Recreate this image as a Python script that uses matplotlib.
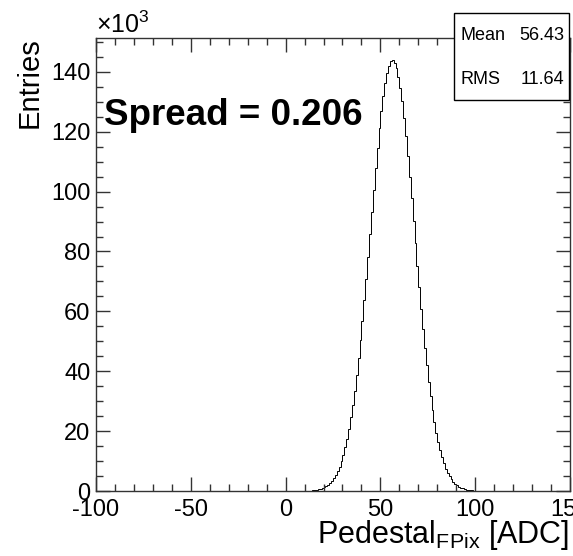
import numpy as np
import matplotlib
matplotlib.use("Agg")
import matplotlib.pyplot as plt
from matplotlib.patches import Rectangle
from matplotlib.ticker import MultipleLocator

plt.rcParams['font.family'] = ['Liberation Sans', 'DejaVu Sans']
plt.rcParams['mathtext.fontset'] = 'custom'
plt.rcParams['mathtext.rm'] = 'Liberation Sans'
plt.rcParams['mathtext.it'] = 'Liberation Sans:italic'
plt.rcParams['axes.unicode_minus'] = False

# Histogram data (bin lower edges in ADC, contents in units of 10^3 entries)
bin_low = list(range(14, 100))
counts_k = [
    0.22, 0.29, 0.40, 0.54, 0.71, 0.94, 1.23, 1.60, 2.06, 2.64,
    3.35, 4.24, 5.30, 6.59, 8.14, 9.97, 12.12, 14.63, 17.53, 20.84,
    24.59, 28.80, 33.50, 38.68, 44.30, 50.39, 56.87, 63.72, 70.87, 78.23,
    85.72, 93.23, 100.6, 107.8, 114.7, 121.1, 126.9, 132.0, 136.3, 139.7,
    142.1, 143.5, 143.8, 143.0, 141.2, 138.4, 134.7, 130.1, 124.7, 118.6,
    112.0, 105.0, 97.7, 90.2, 82.7, 75.3, 68.0, 60.9, 54.2, 47.9,
    42.0, 36.5, 31.6, 27.1, 23.0, 19.5, 16.3, 13.6, 11.2, 9.20,
    7.49, 6.05, 4.85, 3.86, 3.05, 2.39, 1.86, 1.44, 1.10, 0.84,
    0.63, 0.48, 0.35, 0.26, 0.19, 0.14,
]
bin_width = 1.0
stat_names = ["Mean", "RMS"]
stat_values = ["56.43", "11.64"]
spread_text = "Spread = 0.206"

W, H = 573, 556
fig = plt.figure(figsize=(W / 100, H / 100), dpi=100)
ax = fig.add_axes([96 / W, 1 - 491 / H, (570 - 96) / W, (491 - 38) / H])

edges = np.append(np.array(bin_low, dtype=float), bin_low[-1] + bin_width)
ax.stairs(counts_k, edges, color='black', linewidth=0.7, baseline=0)

ax.set_xlim(-100, 150)
ax.set_ylim(0, 151.3)
ax.xaxis.set_major_locator(MultipleLocator(50))
ax.xaxis.set_minor_locator(MultipleLocator(10))
ax.yaxis.set_major_locator(MultipleLocator(20))
ax.yaxis.set_minor_locator(MultipleLocator(5))
ax.tick_params(which='both', direction='in', top=True, right=True,
               labelsize=17, color='#333333', width=1)
ax.tick_params(which='major', length=10)
ax.tick_params(which='minor', length=5)
ax.tick_params(axis='x', pad=6)
ax.tick_params(axis='y', pad=4)
for sp in ax.spines.values():
    sp.set_linewidth(1)
    sp.set_color('#333333')

# axis titles
fig.text(569 / W, 1 - 543 / H, r'Pedestal$_{\mathrm{FPix}}$ [ADC]', ha='right',
         va='baseline', fontsize=22)
fig.text(30 / W, 1 - 37 / H, 'Entries', rotation=90, ha='center', va='top',
         fontsize=21)
fig.text(96 / W, 1 - 33 / H, r'$\times$10$^{3}$', ha='left', va='baseline',
         fontsize=18)

# spread annotation
fig.text(104 / W, 1 - 125 / H, spread_text, ha='left', va='baseline',
         fontsize=26.5, fontweight='bold')

# stats box
box = Rectangle((454 / W, 1 - 100 / H), (569 - 454) / W, (100 - 13) / H,
                transform=fig.transFigure, facecolor='white', edgecolor='black',
                linewidth=1, zorder=10)
fig.patches.append(box)
ys = [36, 80]
for name, val, yy in zip(stat_names, stat_values, ys):
    fig.text(460 / W, 1 - yy / H, name, ha='left', va='center', fontsize=13,
             zorder=11)
    fig.text(564 / W, 1 - yy / H, val, ha='right', va='center', fontsize=13,
             zorder=11)

fig.savefig('out.png', dpi=100)
